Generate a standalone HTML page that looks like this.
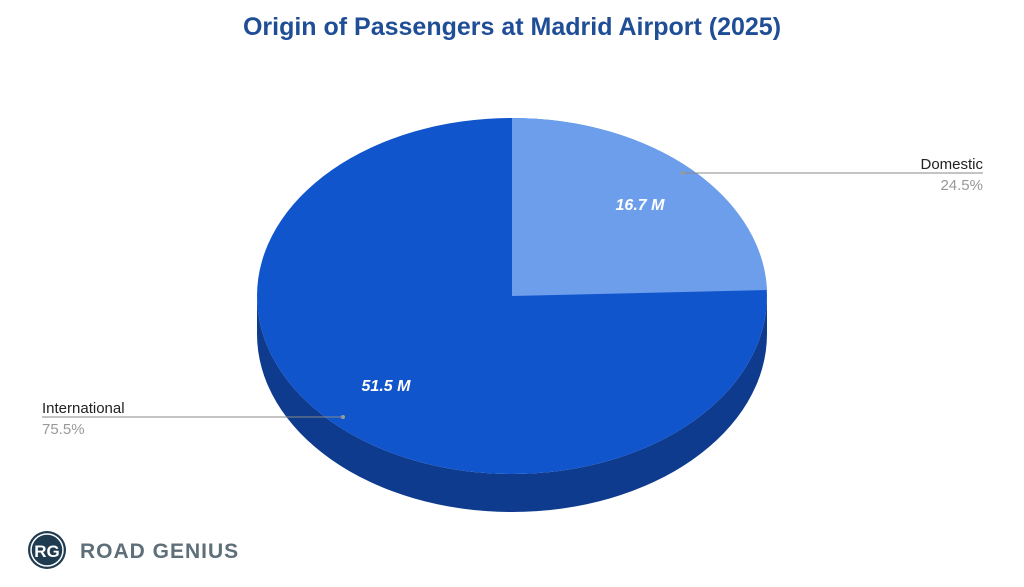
<!DOCTYPE html>
<html><head><meta charset="utf-8"><style>
body{margin:0;background:#fff;width:1024px;height:582px;overflow:hidden}
</style></head><body>
<svg width="1024" height="582" viewBox="0 0 1024 582" xmlns="http://www.w3.org/2000/svg" font-family="Liberation Sans, Arial, sans-serif">
<text x="512" y="35" text-anchor="middle" font-size="25" font-weight="bold" fill="#1f4e96">Origin of Passengers at Madrid Airport (2025)</text>
<path d="M257,296 A255,178 0 0 0 767,296 L767,334 A255,178 0 0 1 257,334 Z" fill="#0e3b8e"/>
<ellipse cx="512" cy="296" rx="255" ry="178" fill="#1155cc"/>
<path d="M512,296 L512,118 A255,178 0 0 1 767,290 Z" fill="#6d9eeb"/>
<text x="640" y="210" text-anchor="middle" font-size="16" font-weight="bold" font-style="italic" fill="#fff">16.7 M</text>
<text x="386" y="391" text-anchor="middle" font-size="16" font-weight="bold" font-style="italic" fill="#fff">51.5 M</text>
<line x1="683" y1="173" x2="983" y2="173" stroke="#888" stroke-width="1"/>
<circle cx="683" cy="173" r="2" fill="#999"/>
<text x="983" y="169" text-anchor="end" font-size="15" fill="#222">Domestic</text>
<text x="983" y="190" text-anchor="end" font-size="15" fill="#999">24.5%</text>
<line x1="42" y1="417" x2="343" y2="417" stroke="#888" stroke-width="1"/>
<circle cx="343" cy="417" r="2" fill="#999"/>
<text x="42" y="413" font-size="15" fill="#222">International</text>
<text x="42" y="434" font-size="15" fill="#999">75.5%</text>
<circle cx="47" cy="550" r="19" fill="#1f3b50"/>
<circle cx="47" cy="550" r="16" fill="none" stroke="#fff" stroke-width="1.5"/>
<text x="47" y="557" text-anchor="middle" font-size="17" font-weight="bold" fill="#fff">RG</text>
<text x="80" y="558" font-size="21" font-weight="bold" fill="#5f6f7a" letter-spacing="1">ROAD GENIUS</text>
</svg>
</body></html>
